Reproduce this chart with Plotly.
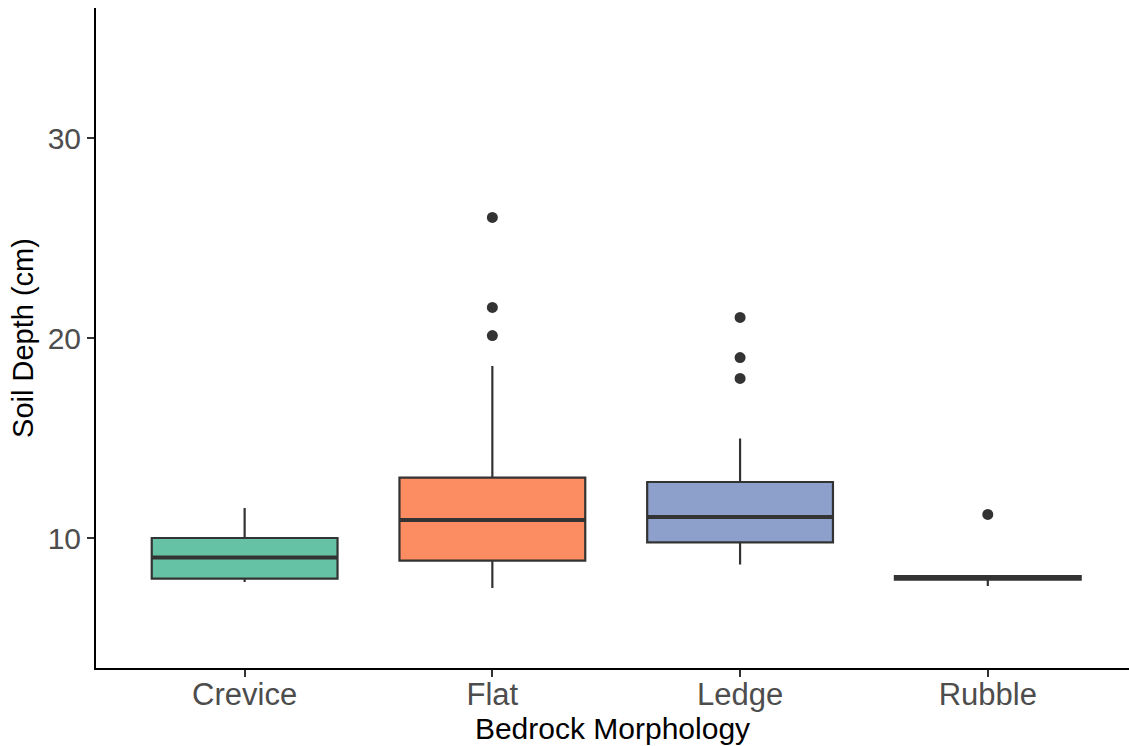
import plotly.graph_objects as go

categories = ["Crevice", "Flat", "Ledge", "Rubble"]
q1 = [7.97, 8.87, 9.78, 7.92]
median = [9.03, 10.9, 11.05, 8.0]
q3 = [10.0, 13.02, 12.8, 8.1]
lower_whisker = [7.8, 7.5, 8.68, 7.6]
upper_whisker = [11.5, 18.6, 14.98, 8.1]
outlier_cat = ["Flat", "Flat", "Flat", "Ledge", "Ledge", "Ledge", "Rubble"]
outlier_val = [26.03, 21.53, 20.12, 21.03, 19.02, 17.98, 11.18]
fill_colors = ["#66C2A5", "#FC8D62", "#8DA0CB", "#E78AC3"]

LINE = "#333333"
FONT = "Liberation Sans, Arial, sans-serif"

fig = go.Figure()
for i, c in enumerate(categories):
    fig.add_trace(go.Box(
        x=[c], q1=[q1[i]], median=[median[i]], q3=[q3[i]],
        lowerfence=[lower_whisker[i]], upperfence=[upper_whisker[i]],
        fillcolor=fill_colors[i], line=dict(color=LINE, width=2.2),
        whiskerwidth=0, width=0.75, boxpoints=False, showlegend=False,
    ))
# thicker median lines (ggplot style)
fig.add_trace(go.Box(
    x=categories, q1=median, median=median, q3=median,
    lowerfence=median, upperfence=median,
    fillcolor="rgba(0,0,0,0)", line=dict(color=LINE, width=4),
    whiskerwidth=0, width=0.75, boxpoints=False, showlegend=False,
))
fig.add_trace(go.Scatter(
    x=outlier_cat, y=outlier_val, mode="markers",
    marker=dict(color=LINE, size=11), showlegend=False,
))

fig.update_layout(
    width=1129, height=746,
    margin=dict(l=96, r=0, t=8, b=78),
    plot_bgcolor="white", paper_bgcolor="white",
    font=dict(family=FONT),
    boxmode="overlay",
    xaxis=dict(
        type="category", categoryorder="array", categoryarray=categories,
        range=[-0.6, 3.57], showline=True, linecolor="black", linewidth=2,
        ticks="outside", ticklen=7, tickwidth=2, tickcolor=LINE,
        ticklabelstandoff=-9,
        tickfont=dict(size=31, color="#4D4D4D", family=FONT),
        showgrid=False, zeroline=False,
        title=dict(text="Bedrock Morphology", font=dict(size=30, color="black", family=FONT), standoff=6),
    ),
    yaxis=dict(
        range=[3.5, 36.5], tickvals=[10, 20, 30],
        showline=True, linecolor="black", linewidth=2,
        ticks="outside", ticklen=7, tickwidth=2, tickcolor=LINE,
        tickfont=dict(size=30, color="#4D4D4D", family=FONT),
        showgrid=False, zeroline=False,
        title=dict(text="Soil Depth (cm)", font=dict(size=29, color="black", family=FONT), standoff=5),
    ),
)

fig.write_html("out.html")
